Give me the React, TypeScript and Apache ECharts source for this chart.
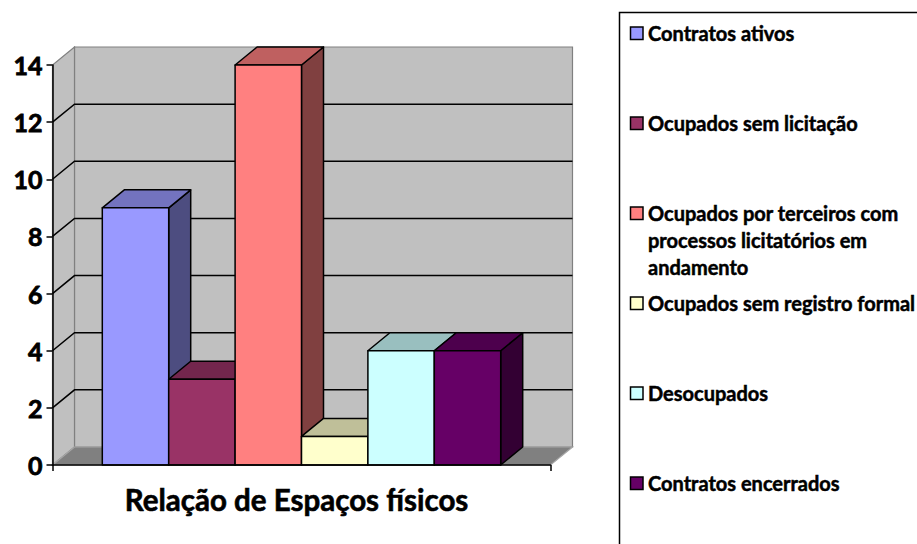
import React, { useEffect, useRef } from "react";
import * as echarts from "echarts";

const categories = ["Relação de Espaços físicos"];
const seriesNames = [
  "Contratos ativos",
  "Ocupados sem licitação",
  "Ocupados por terceiros com\nprocessos licitatórios em\nandamento",
  "Ocupados sem registro formal",
  "Desocupados",
  "Contratos encerrados",
];
const seriesValues = [9, 3, 14, 1, 4, 4];
const seriesColors = ["#9999FF", "#993366", "#FF8080", "#FFFFCC", "#CCFFFF", "#660066"];
const yMin = 0;
const yMax = 14;
const yStep = 2;

const DX = 22;
const DY = -18;
const FONT = "Lato";

function shade(hex: string, f: number): string {
  const n = parseInt(hex.slice(1), 16);
  const r = Math.round(((n >> 16) & 255) * f);
  const g = Math.round(((n >> 8) & 255) * f);
  const b = Math.round((n & 255) * f);
  return "rgb(" + r + "," + g + "," + b + ")";
}

export default function App() {
  const ref = useRef<HTMLDivElement>(null);
  useEffect(() => {
    if (!ref.current) return;
    const chart = echarts.init(ref.current, undefined, { renderer: "svg" });
    const n = seriesValues.length;

    const wallSeries: any = {
      type: "custom",
      name: "walls",
      silent: true,
      clip: false,
      z: 1,
      data: [[0, 0]],
      encode: { x: 0, y: 1 },
      renderItem: (params: any, api: any) => {
        const cs = params.coordSys;
        const L = cs.x;
        const R = cs.x + cs.width;
        const B = api.coord([0, yMin])[1];
        const T = api.coord([0, yMax])[1];
        const children: any[] = [
          {
            type: "polygon",
            shape: { points: [[L + DX, T + DY], [R + DX, T + DY], [R + DX, B + DY], [L + DX, B + DY]] },
            style: { fill: "#C0C0C0", stroke: "#808080", lineWidth: 1.2 },
          },
          {
            type: "polygon",
            shape: { points: [[L, B], [L, T], [L + DX, T + DY], [L + DX, B + DY]] },
            style: { fill: "#C0C0C0", stroke: "#808080", lineWidth: 1.2 },
          },
          {
            type: "polygon",
            shape: { points: [[L, B], [R, B], [R + DX, B + DY], [L + DX, B + DY]] },
            style: { fill: "#808080", stroke: "#A6A6A6", lineWidth: 1.2 },
          },
        ];
        for (let v = yMin + yStep; v < yMax; v += yStep) {
          const y = api.coord([0, v])[1];
          children.push({
            type: "polyline",
            shape: { points: [[L, y], [L + DX, y + DY], [R + DX, y + DY]] },
            style: { fill: "none", stroke: "#000", lineWidth: 1.5 },
          });
        }
        return { type: "group", children };
      },
    };

    const barSeries: any[] = seriesValues.map((val, i) => ({
      type: "custom",
      name: seriesNames[i],
      clip: false,
      z: 2,
      data: [[0, val]],
      encode: { x: 0, y: 1 },
      renderItem: (params: any, api: any) => {
        const v = api.value(1);
        const base = api.coord([api.value(0), 0]);
        const top = api.coord([api.value(0), v]);
        const band = api.size([1, 0])[0];
        const bw = (band * 0.8) / n;
        const x0 = base[0] - band * 0.4 + i * bw;
        const x1 = x0 + bw;
        const yb = base[1];
        const yt = top[1];
        const c = seriesColors[i];
        const stroke = { stroke: "#000", lineWidth: 1.5, lineJoin: "round" };
        return {
          type: "group",
          children: [
            {
              type: "polygon",
              shape: { points: [[x1, yt], [x1, yb], [x1 + DX, yb + DY], [x1 + DX, yt + DY]] },
              style: { fill: shade(c, 0.5), ...stroke },
            },
            {
              type: "polygon",
              shape: { points: [[x0, yt], [x1, yt], [x1 + DX, yt + DY], [x0 + DX, yt + DY]] },
              style: { fill: shade(c, 0.75), ...stroke },
            },
            {
              type: "rect",
              shape: { x: x0, y: yt, width: bw, height: yb - yt },
              style: { fill: c, ...stroke },
            },
          ],
        };
      },
    }));

    const legendGraphics: any[] = [
      {
        type: "rect",
        shape: { x: 619.5, y: 12.5, width: 400, height: 600 },
        style: { fill: "#fff", stroke: "#000", lineWidth: 1.5 },
        z: 0,
      },
    ];
    seriesNames.forEach((name, i) => {
      const cy = 33 + i * 90;
      legendGraphics.push({
        type: "rect",
        shape: { x: 630.5, y: cy - 6, width: 12.5, height: 12.5 },
        style: { fill: seriesColors[i], stroke: "#000", lineWidth: 1.5 },
        z: 1,
      });
      legendGraphics.push({
        type: "text",
        x: 648,
        y: cy - 13.5,
        z: 1,
        style: {
          text: name,
          fill: "#000",
          font: "bold 20px " + FONT,
          lineHeight: 27,
          verticalAlign: "top",
          align: "left",
          stroke: "#000",
          lineWidth: 0.5,
        },
      });
    });

    chart.setOption({
      animation: false,
      backgroundColor: "#fff",
      grid: { left: 52.5, top: 65, width: 498, height: 400, containLabel: false, outerBoundsMode: "none" },
      xAxis: {
        type: "category",
        data: categories,
        z: 10,
        axisLine: { show: true, lineStyle: { color: "#000", width: 1.5 } },
        axisTick: { show: true, length: 6, lineStyle: { color: "#000", width: 1.5 } },
        axisLabel: {
          color: "#000",
          fontFamily: FONT,
          fontWeight: "bold",
          fontSize: 29.5,
          margin: 19,
          padding: [0, 10, 0, 0],
          textBorderColor: "#000",
          textBorderWidth: 0.6,
        },
        splitLine: { show: false },
      },
      yAxis: {
        type: "value",
        min: yMin,
        max: yMax,
        interval: yStep,
        z: 10,
        axisLine: { show: true, lineStyle: { color: "#000", width: 1.5 } },
        axisTick: { show: true, length: 6, lineStyle: { color: "#000", width: 1.5 } },
        axisLabel: {
          color: "#000",
          fontFamily: FONT,
          fontWeight: "bold",
          fontSize: 25,
          margin: 10,
          textBorderColor: "#000",
          textBorderWidth: 0.8,
        },
        splitLine: { show: false },
      },
      graphic: legendGraphics,
      series: [wallSeries, ...barSeries],
    });
    return () => chart.dispose();
  }, []);
  return <div ref={ref} style={{ position: "absolute", left: 0, top: 0, width: 917, height: 544 }} />;
}
